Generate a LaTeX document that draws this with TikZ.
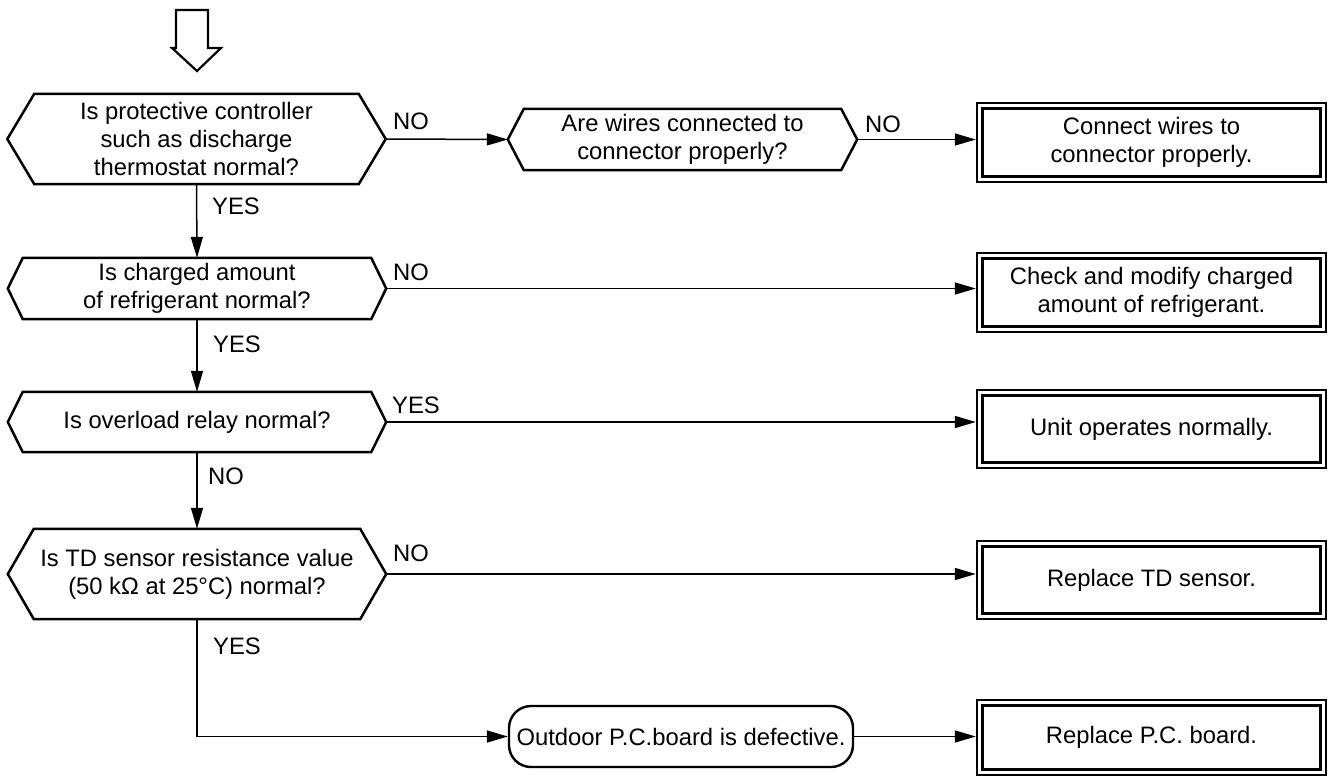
\documentclass[tikz,border=0pt]{standalone}
\usepackage{fontspec}
\setmainfont{Liberation Sans}
\usetikzlibrary{arrows.meta,calc}
\newcommand\hexo[2]{\draw[shp] (#1.west) -- ([xshift=#2]#1.north west) -- ([xshift=-#2]#1.north east) -- (#1.east) -- ([xshift=-#2]#1.south east) -- ([xshift=#2]#1.south west) -- cycle;}
\newcommand\innerbox[1]{\draw[line width=2.8pt] ([shift={(7pt,-7pt)}]#1.north west) rectangle ([shift={(-7pt,7pt)}]#1.south east);}
\begin{document}
\begin{tikzpicture}[x=1pt,y=-1pt,
  every node/.style={font=\fontsize{23.8}{28}\selectfont},
  dec/.style={inner sep=0pt, align=center, minimum width=378pt},
  box/.style={draw, line width=2.4pt, inner sep=0pt, align=center, minimum width=349pt, minimum height=78pt},
  term/.style={draw, line width=2.4pt, rounded corners=22pt, minimum width=344pt, minimum height=61pt, inner sep=0pt},
  conn/.style={line width=1.5pt, -{Triangle[length=21pt,width=12pt]}},
  lbl/.style={anchor=base west, inner sep=0pt},
  shp/.style={line width=2.5pt, line join=miter}
]
\useasboundingbox (0,0) rectangle (1330,777);

% open start arrow
\draw[shp, line width=2.2pt] (176,10) -- (208,10) -- (208,48) -- (221,48) -- (197,71) -- (172,48) -- (176,48) -- cycle;

\node[dec, minimum height=90pt] (d1) at (196.5,139) {Is protective controller\\such as discharge\\thermostat normal?};
\hexo{d1}{27pt}
\node[dec, minimum width=349pt, minimum height=61pt] (d2) at (682.5,139.5) {Are wires connected to\\connector properly?};
\hexo{d2}{16pt}
\node[box, minimum height=79pt] (b1) at (1151.5,142.5) {Connect wires to\\connector properly.};
\innerbox{b1}

\node[dec, minimum height=61pt] (d3) at (197,288.5) {Is charged amount\\of refrigerant normal?};
\hexo{d3}{15pt}
\node[box, minimum height=79pt] (b2) at (1151.5,292.5) {Check and modify charged\\amount of refrigerant.};
\innerbox{b2}

\node[dec, minimum height=60pt] (d4) at (197,422) {Is overload relay normal?};
\hexo{d4}{15pt}
\node[box] (b3) at (1151.5,429) {Unit operates normally.};
\innerbox{b3}

\node[dec, minimum height=90pt] (d5) at (197,574) {Is TD sensor resistance value\\(50 kΩ at 25°C) normal?};
\hexo{d5}{26pt}
\node[box] (b4) at (1151.5,580) {Replace TD sensor.};
\innerbox{b4}

\node[term] (t) at (681,736.5) {Outdoor P.C.board is defective.};
\node[box, minimum height=75pt] (b5) at (1151.5,737.5) {Replace P.C. board.};
\innerbox{b5}

% connectors
\draw[conn] (d1.east) -- (d2.west);
\draw[conn] (d2.east) -- (d2.east -| b1.west);
\draw[conn] (d1.south) -- (d3.north);
\draw[conn] (d3.east) -- (d3.east -| b2.west);
\draw[conn] (d3.south) -- (d4.north);
\draw[conn] (d4.east) -- (d4.east -| b3.west);
\draw[conn] (d4.south) -- (d5.north);
\draw[conn] (d5.east) -- (d5.east -| b4.west);
\draw[conn] (d5.south) |- (t.west);
\draw[conn] (t.east) -- (t.east -| b5.west);

% labels
\node[lbl] (l1) at (393,129) {NO};
\node[lbl] (l2) at (865,132) {NO};
\node[lbl] (l3) at (212,214) {YES};
\node[lbl] (l4) at (393,280) {NO};
\node[lbl] (l5) at (213,352) {YES};
\node[lbl] (l6) at (392,413) {YES};
\node[lbl] (l7) at (208,484) {NO};
\node[lbl] (l8) at (393,561) {NO};
\node[lbl] (l9) at (213,654) {YES};
\end{tikzpicture}
\end{document}
